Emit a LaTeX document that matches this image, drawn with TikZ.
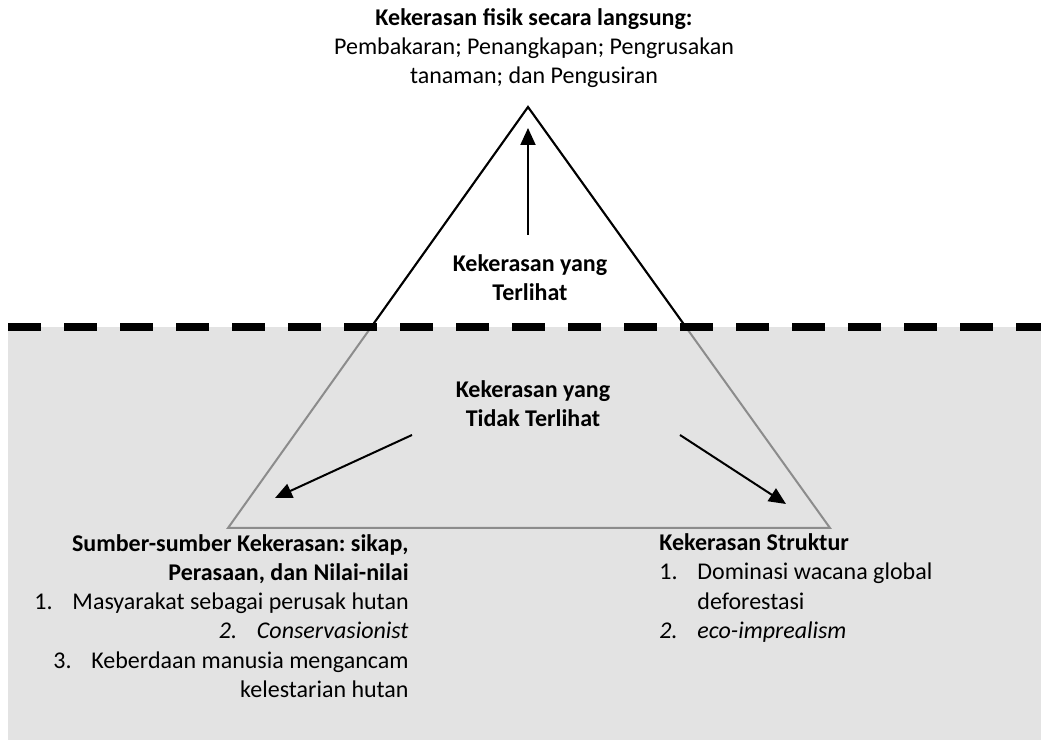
\documentclass[tikz,border=0pt]{standalone}
\usepackage{fontspec}
\setmainfont{Carlito}
\usetikzlibrary{arrows.meta,calc}
\definecolor{bggray}{HTML}{E3E3E3}
\definecolor{edgegray}{HTML}{8C8C8C}
\newcommand{\numitem}[1]{\makebox[19pt][l]{#1}}
\frenchspacing

\begin{document}
\begin{tikzpicture}[x=0.5pt,y=-0.5pt,
        txt/.style={font=\fontsize{12}{14.65}\selectfont, inner sep=0pt},
        arr/.style={-{Triangle[length=8.5pt,width=7.5pt]}, line width=1pt}]
        \useasboundingbox (0,0) rectangle (1041,742);
        \fill[bggray] (8,327) rectangle (1041,740);
        \coordinate (t1) at (528,107);
        \coordinate (t2) at (228,528);
        \coordinate (t3) at (830,528);
        \coordinate (p1) at ($(t1)!220/421!(t2)$);
        \coordinate (p2) at ($(t1)!220/421!(t3)$);
        \draw[edgegray, line width=1pt] (t1) -- (t2) -- (t3) -- cycle;
        \draw[black, line width=1pt] (p1) -- (t1) -- (p2);
        \draw[line width=3.6pt, dash pattern=on 16.5pt off 11.5pt] (8,327) -- (1041,327);
        \node[txt, align=center] (n1) at (534,48) {\textbf{Kekerasan fisik secara langsung:}\\
                Pembakaran; Penangkapan; Pengrusakan\\ tanaman; dan Pengusiran};
        \node[txt, align=center, font=\fontsize{12}{14.65}\selectfont\bfseries] (n2) at (530,278) {Kekerasan yang\\ Terlihat};
        \node[txt, align=center, font=\fontsize{12}{14.65}\selectfont\bfseries] (n3) at (533,404) {Kekerasan yang\\ Tidak Terlihat};
        \node[txt, align=right, anchor=east] (n4) at (409,616) {\textbf{Sumber-sumber Kekerasan: sikap,}\\
                \textbf{Perasaan, dan Nilai-nilai}\\
                \numitem{1.}Masyarakat sebagai perusak hutan\\
                \textit{\numitem{2.}Conservasionist}\\
                \numitem{3.}Keberdaan manusia mengancam\\
                kelestarian hutan};
        \node[txt, align=left, anchor=west] (n5) at (659,588) {\textbf{Kekerasan Struktur}\\
                \numitem{1.}Dominasi wacana global\\
                \hspace*{19pt}deforestasi\\
                \textit{\numitem{2.}eco-imprealism}};
        \coordinate (a1) at (528,235);
        \coordinate (a2) at (528,128);
        \coordinate (a3) at (412,435);
        \coordinate (a4) at (275,498);
        \coordinate (a5) at (680,435);
        \coordinate (a6) at (786,504);
        \draw[arr] (a1) -- (a2);
        \draw[arr] (a3) -- (a4);
        \draw[arr] (a5) -- (a6);
\end{tikzpicture}
\end{document}
